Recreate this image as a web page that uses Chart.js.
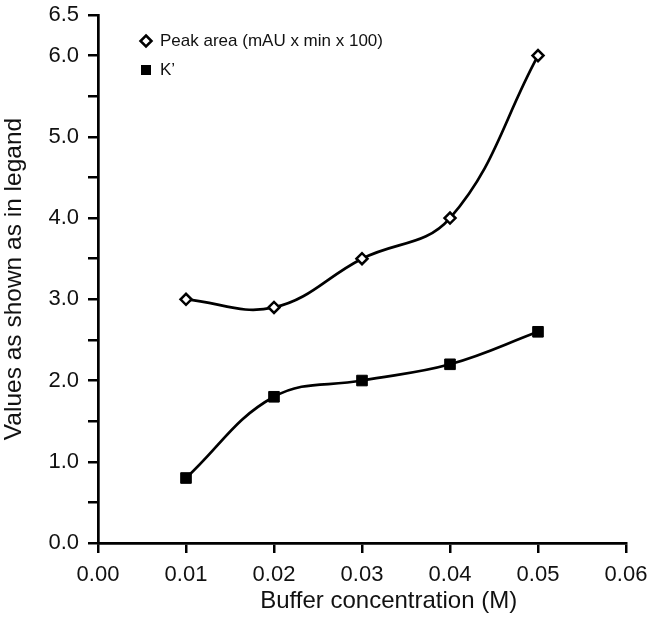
<!DOCTYPE html>
<html lang="en">
<head>
  <meta charset="UTF-8">
  <title>Buffer concentration</title>
  <script src="https://cdn.jsdelivr.net/npm/chart.js"></script>
  <style>
    body { margin: 0; background: #fff; }
    #wrap { width: 650px; height: 620px; }
  </style>
</head>
<body>

  <div id="wrap"><canvas id="bufferChart" width="650" height="620"></canvas></div>

  <script>
    // data
    const concentrations = [0.01, 0.02, 0.03, 0.04, 0.05];
    const peakArea = [3.0, 2.9, 3.5, 4.0, 6.0];
    const kPrime = [0.8, 1.8, 2.0, 2.2, 2.6];
    const seriesNames = ['Peak area (mAU x min x 100)', 'K\u2019'];
    const yLabelTicks = [0, 1, 2, 3, 4, 5, 6, 6.5];

    const FONT = 'Arial, "Liberation Sans", sans-serif';
    const INK = '#111';

    function toPoints(values) {
      return concentrations.map((c, i) => ({ x: c, y: values[i] }));
    }

    // legend drawn inside the plot, top left
    const insideLegend = {
      id: 'insideLegend',
      afterDraw(chart) {
        const ctx = chart.ctx;
        const area = chart.chartArea;
        const rows = [26, 55];
        ctx.save();
        ctx.font = '17px ' + FONT;
        ctx.fillStyle = INK;
        ctx.textBaseline = 'middle';
        chart.data.datasets.forEach((ds, i) => {
          const mx = area.left + 48;
          const my = area.top + rows[i];
          ctx.lineWidth = 2.5;
          ctx.strokeStyle = '#000';
          ctx.beginPath();
          if (ds.pointStyle === 'rectRot') {
            ctx.moveTo(mx, my - 5.5);
            ctx.lineTo(mx + 5.5, my);
            ctx.lineTo(mx, my + 5.5);
            ctx.lineTo(mx - 5.5, my);
            ctx.closePath();
            ctx.fillStyle = '#fff';
            ctx.fill();
            ctx.stroke();
          } else {
            ctx.fillStyle = '#000';
            ctx.fillRect(mx - 5, my - 5, 10, 10);
          }
          ctx.fillStyle = INK;
          ctx.fillText(ds.label, area.left + 62, my);
        });
        ctx.restore();
      }
    };

    const ctx = document.getElementById('bufferChart').getContext('2d');
    const chart = new Chart(ctx, {
      type: 'line',
      data: {
        datasets: [
          {
            label: seriesNames[0],
            data: toPoints(peakArea),
            borderColor: '#000',
            borderWidth: 2.7,
            tension: 0.4,
            pointStyle: 'rectRot',
            pointRadius: 5.5,
            pointBorderWidth: 2.5,
            pointBackgroundColor: '#fff',
            pointBorderColor: '#000'
          },
          {
            label: seriesNames[1],
            data: toPoints(kPrime),
            borderColor: '#000',
            borderWidth: 2.7,
            tension: 0.4,
            pointStyle: 'rect',
            pointRadius: 7.5,
            pointBorderWidth: 1,
            pointBackgroundColor: '#000',
            pointBorderColor: '#000'
          }
        ]
      },
      options: {
        responsive: false,
        animation: false,
        layout: { padding: { top: 15, right: 24, bottom: 0, left: 0 } },
        plugins: {
          legend: { display: false },
          tooltip: { enabled: false }
        },
        scales: {
          x: {
            type: 'linear',
            min: 0,
            max: 0.06,
            ticks: {
              stepSize: 0.01,
              padding: 9,
              color: INK,
              font: { family: FONT, size: 22 },
              callback: v => v.toFixed(2)
            },
            grid: { drawOnChartArea: false, drawTicks: true, tickLength: 10, color: '#000', lineWidth: 2.5 },
            border: { color: '#000', width: 2.7 },
            title: {
              display: true,
              text: ' '.repeat(8) + 'Buffer concentration (M)',
              color: INK,
              font: { family: FONT, size: 24 },
              padding: { top: 0, bottom: 4 }
            },
            afterFit(scale) {
              scale.height = 77;
              scale.paddingLeft = 0;
              scale.paddingRight = 0;
            }
          },
          y: {
            min: 0,
            max: 6.5,
            ticks: {
              stepSize: 0.5,
              padding: 9,
              color: INK,
              font: { family: FONT, size: 22 },
              callback: v => yLabelTicks.includes(v) ? v.toFixed(1) : ''
            },
            grid: { drawOnChartArea: false, drawTicks: true, tickLength: 10, color: '#000', lineWidth: 2.5 },
            border: { color: '#000', width: 2.7 },
            title: {
              display: true,
              text: 'Values as shown as in legand',
              color: INK,
              font: { family: FONT, size: 24.5 },
              padding: { top: 0, bottom: 0 }
            },
            afterFit(scale) {
              scale.width = 98;
              scale.paddingTop = 0;
              scale.paddingBottom = 0;
            }
          }
        }
      },
      plugins: [insideLegend]
    });
  </script>

</body>
</html>
